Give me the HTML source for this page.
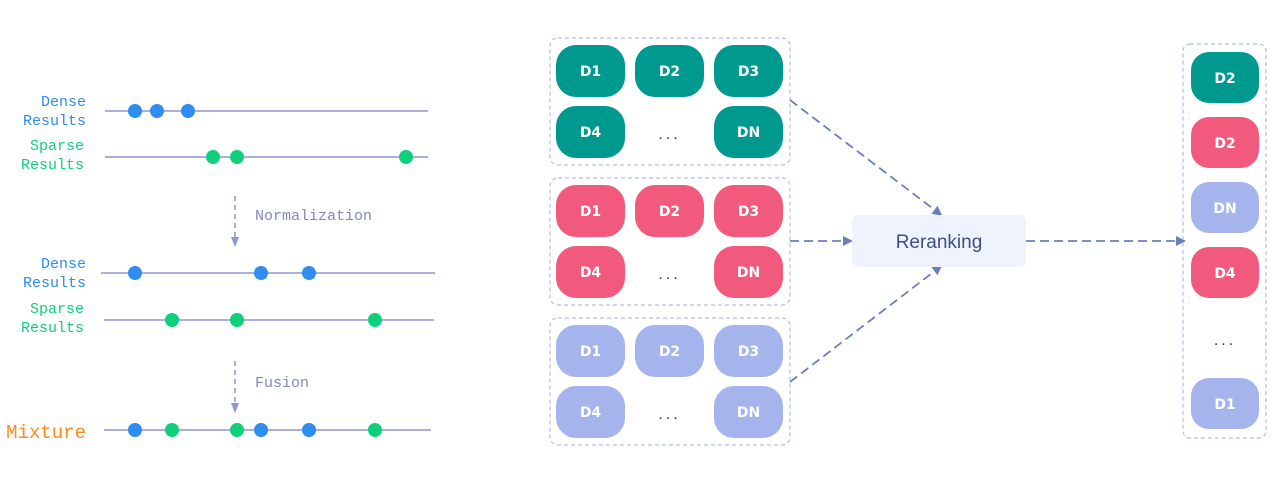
<!DOCTYPE html>
<html><head><meta charset="utf-8"><style>
html,body{margin:0;padding:0;background:#fff;width:1283px;height:484px;overflow:hidden}
svg{display:block}
.mono{font-family:"Liberation Mono","DejaVu Sans Mono",monospace;font-size:15px}
.pill{font-family:"DejaVu Sans","Liberation Sans",sans-serif;font-weight:bold;font-size:14px;fill:#fff}
</style></head><body>
<svg id="svg" width="1283" height="484" viewBox="0 0 1283 484">
<defs>
<marker id="ah" markerWidth="10" markerHeight="10" refX="7" refY="5" orient="auto" markerUnits="userSpaceOnUse"><path d="M0,0 L10,5 L0,10 Z" fill="#6b7fc0"/></marker>
<marker id="ah2" markerWidth="10" markerHeight="8" refX="5" refY="4" orient="auto" markerUnits="userSpaceOnUse"><path d="M0,0 L10,4 L0,8 Z" fill="#8e96d4"/></marker>
</defs>
<g id="left">
<text class="mono" x="86" y="106" text-anchor="end" fill="#2f8cf0">Dense</text>
<text class="mono" x="86" y="125" text-anchor="end" fill="#2f8cf0">Results</text>
<text class="mono" x="84" y="150" text-anchor="end" fill="#0fd07a">Sparse</text>
<text class="mono" x="84" y="169" text-anchor="end" fill="#0fd07a">Results</text>
<text class="mono" x="86" y="268" text-anchor="end" fill="#2f8cf0">Dense</text>
<text class="mono" x="86" y="287" text-anchor="end" fill="#2f8cf0">Results</text>
<text class="mono" x="84" y="313" text-anchor="end" fill="#0fd07a">Sparse</text>
<text class="mono" x="84" y="332" text-anchor="end" fill="#0fd07a">Results</text>
<text class="mono" x="86" y="438" text-anchor="end" fill="#ff8a1c" style="font-size:19px">Mixture</text>
<line x1="235" y1="196" x2="235" y2="242" stroke="#8e96d4" stroke-width="1.5" stroke-dasharray="5,4" marker-end="url(#ah2)"/>
<text class="mono" x="255" y="220" fill="#8088c0">Normalization</text>
<line x1="235" y1="361" x2="235" y2="408" stroke="#8e96d4" stroke-width="1.5" stroke-dasharray="5,4" marker-end="url(#ah2)"/>
<text class="mono" x="255" y="387" fill="#8088c0">Fusion</text>
</g>
<g id="mid"></g>
</svg>
<script>
const NS='http://www.w3.org/2000/svg';
const svg=document.getElementById('svg');
function mk(tag,attrs,parent){const e=document.createElementNS(NS,tag);for(const k in attrs)e.setAttribute(k,attrs[k]);(parent||svg).appendChild(e);return e;}
const rowYs=[111,157,273,320,430];
const rowX1=[105,105,101,104,104];
const rowX2=[428,428,435,434,431];
const rowNames=['dense-raw','sparse-raw','dense-norm','sparse-norm','mixture'];
const denseRaw=[135,157,188];
const sparseRaw=[213,237,406];
const denseNorm=[135,261,309];
const sparseNorm=[172,237,375];
const BLUE='#2f8cf0',GREEN='#0fd07a';
const rowDots=[[denseRaw,BLUE],[sparseRaw,GREEN],[denseNorm,BLUE],[sparseNorm,GREEN],null];
rowYs.forEach((y,i)=>{
  const l=mk('line',{x1:rowX1[i],y1:y,x2:rowX2[i],y2:y,stroke:'#8e96d4','stroke-width':1.5});
  
  
  let dots=[];
  if(rowDots[i]) dots=rowDots[i][0].map(x=>[x,rowDots[i][1]]);
  else dots=denseNorm.map(x=>[x,BLUE]).concat(sparseNorm.map(x=>[x,GREEN]));
  dots.forEach(([x,c])=>{
    const d=mk('circle',{cx:x,cy:y,r:7,fill:c});
    
    
  });
});
const groupTops=[38,178,318];
const groupColors=['#00998f','#f25a7d','#a5b4ec'];
const groupNames=['dense-list','sparse-list','other-list'];
const cellLabels=[['D1','D2','D3'],['D4','...','DN']];
const colX=[556,635,714];
groupTops.forEach((t,g)=>{
  const b=mk('rect',{x:550,y:t,width:240,height:127,rx:8,fill:'none',stroke:'#b4bde6','stroke-width':1.2,'stroke-dasharray':'4,3'});
  
  
  cellLabels.forEach((row,r)=>row.forEach((lab,c)=>{
    const y=t+7+r*61;
    if(lab==='...'){
      const tx=mk('text',{x:colX[c]+34.5,y:y+33,'text-anchor':'middle',fill:'#333','font-family':'Liberation Sans,sans-serif','font-size':16,'letter-spacing':'3'});
      tx.textContent='...';
      
      
      return;
    }
    const p=mk('rect',{x:colX[c],y:y,width:69,height:52,rx:20,fill:groupColors[g]});
    
    
    const tx=mk('text',{x:colX[c]+34.5,y:y+31,'text-anchor':'middle',class:'pill'});
    tx.textContent=lab;
    
    
  }));
});
const arrows=[[790,100,940,214],[790,241,850,241],[790,382,940,267],[1026,241,1183,241]];
arrows.forEach(a=>{
  const l=mk('line',{x1:a[0],y1:a[1],x2:a[2],y2:a[3],stroke:'#6b7fc0','stroke-width':1.8,'stroke-dasharray':'9,5','marker-end':'url(#ah)'});
  
  
});
const rr=mk('rect',{x:852,y:215,width:174,height:52,rx:7,fill:'#eef3fd'});


const rt=mk('text',{x:939,y:248,'text-anchor':'middle',fill:'#3f4f86','font-family':'Liberation Sans,sans-serif','font-size':19});
rt.textContent='Reranking';


const fb=mk('rect',{x:1183,y:44,width:83,height:394,rx:7,fill:'none',stroke:'#b4bde6','stroke-width':1.2,'stroke-dasharray':'4,3'});


const finalLabels=['D2','D2','DN','D4','...','D1'];
const finalColors=['#00998f','#f25a7d','#a5b4ec','#f25a7d',null,'#a5b4ec'];
const finalTops=[52,117,182,247,315,378];
finalLabels.forEach((lab,i)=>{
  const y=finalTops[i];
  if(!finalColors[i]){
    const tx=mk('text',{x:1225,y:y+30,'text-anchor':'middle',fill:'#333','font-family':'Liberation Sans,sans-serif','font-size':16,'letter-spacing':'3'});
    tx.textContent='...';
    
    
    return;
  }
  const p=mk('rect',{x:1191,y:y,width:68,height:51,rx:18,fill:finalColors[i]});
  
  
  const tx=mk('text',{x:1225,y:y+31,'text-anchor':'middle',class:'pill'});
  tx.textContent=lab;
  
  
});
</script>
</body></html>
